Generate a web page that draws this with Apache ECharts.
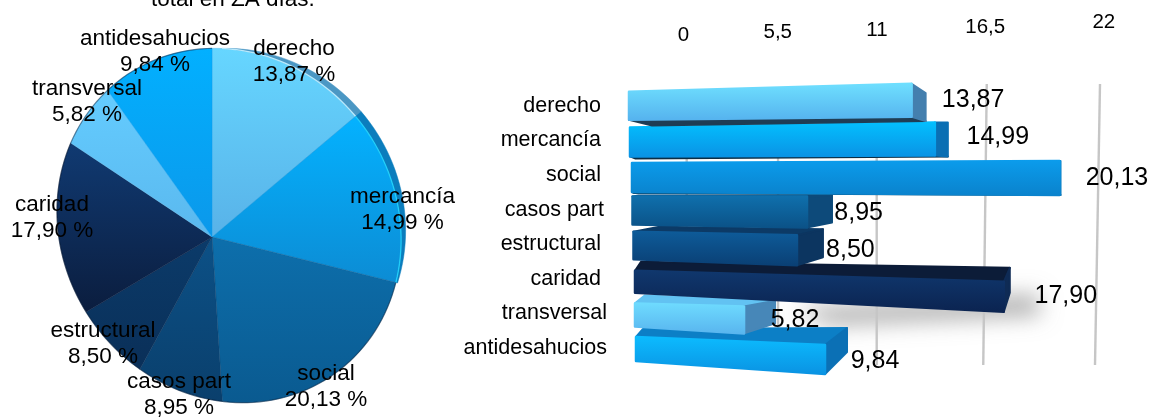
<!DOCTYPE html>
<html>
<head>
<meta charset="utf-8">
<style>html,body{margin:0;padding:0;background:#fff}#c{width:1151px;height:417px}</style>
<script src="https://cdn.jsdelivr.net/npm/echarts@6/dist/echarts.min.js"></script>
</head>
<body>
<div id="c"></div>
<script>
// Data
const categories = ['derecho','mercancía','social','casos part','estructural','caridad','transversal','antidesahucios'];
const shares = [13.87,14.99,20.13,8.95,8.50,17.90,5.82,9.84];
const tickValues = [0,5.5,11,16.5,22];
const tickLabels = ['0','5,5','11','16,5','22'];
const titleText = 'total en ZA días.';

// Slice colours (top and bottom of the gradient)
const sliceTop = ['#66d6ff','#04b2ff','#0d6fac','#0c5187','#0b3b6a','#103a72','#64ccff','#02b0ff'];
const sliceBottom = ['#58b2e8','#0c8cd4','#0a5a90','#0a3f6c','#0a2f58','#0b1d3e','#5ab8ee','#0b98ea'];
const rimColor = ['#4b97c4','#0b7dbd'];

// Tilted pie outline
const pieApex = [212, 237];
const pieCentre = [229, 225.5];
const pieAxes = [182, 167];
const pieTilt = 325;
// Slice label anchors: centre x, first line y
const sliceLabelAt = [[294,49],[402.5,197],[326,374],[179,382],[103,331],[52,205],[87,89],[155,38.5]];

// Bar perspective per row
const rowStart = [-3,-2,0,0.5,1.5,3,3,4];
const rowScale = [0.994,0.992,1.036,0.951,0.938,1.005,0.914,0.937];
// Front face corners relative to row centre: top-left, top-right, bottom-right, bottom-left
const rowFace = [[-14,-22,11,14],[-13,-18,15,16],[-12,-14,20,17],[-13,-13,18,15],[-12.5,-9,21,15],[-8,3,33,14],[-10,-7,20,13],[-11,-3,26,13]];
// End cap: depth x, shift of its top edge, shift of its bottom edge
const rowCap = [[14,9.3,4.3],[13,0,1],[1,0,0],[25,-1,-5],[26,-6,-8],[6,-14,-19],[31,-5.7,-10],[22,-17,-22]];
// Long side face: start offset x, y
const rowLid = [[23,5.7],[5,2],[2,1],[6,-1],[26,-5],[6,-9],[10,-8],[7,-8]];
const barTop = ['#6fe0ff','#03c0ff','#0b9cec','#0f70ad','#0e5c9a','#10386e','#6fdcff','#0cbcff'];
const barBottom = ['#55b2ee','#0a92e4','#0a82cc','#0b5186','#0a3f74','#0b2350','#58b4ee','#0a92e2'];
const capFill = ['#447fae','#0b6fb3','#0a7cc0','#0d4a7a','#0c3560','#0f2b55','#4787b8','#0b70b5'];
const lidFill = ['#1f3d55','#0b2d45','#0b4468','#0c4c7c','#0c3a66','#0c1c38','#62c2f2','#0c7fc6'];
// Value label offsets from the bar end and the row centre
const valueLabelAt = [[61.5,-6],[63,-3.5],[57.4,3],[51.7,3.4],[53.5,5.8],[62,17],[51,6.6],[50,13]];
// Category label gap from the axis
const categoryGap = [6,6,6,3,6,6,0,0];
// Scale marks: label shift x, label y, line shift at top and bottom, line top as a share of the height
const tickLabelShift = [-0.5,-11,-16.5,-13,0.8];
const tickLabelY = [35,32,30,27,22];
const tickLineTop = [2.7,-10.7,-16.8,-11.5,-3];
const tickLineBottom = [2.7,-10.7,-16.8,-15,-8];
const tickLineReach = [0.9,0.9,0.9,1,1];

const textFont = '"Liberation Sans", Arial, sans-serif';

function fmt(v){ return v.toFixed(2).replace('.', ','); }

function rayToRim(theta){
  const t = theta*Math.PI/180, d = [Math.sin(t), -Math.cos(t)];
  const f = pieTilt*Math.PI/180, u = [Math.sin(f), -Math.cos(f)], w = [Math.cos(f), Math.sin(f)];
  const p = [pieApex[0]-pieCentre[0], pieApex[1]-pieCentre[1]];
  const a = pieAxes[0], b = pieAxes[1];
  const du = (d[0]*u[0]+d[1]*u[1])/a, dw = (d[0]*w[0]+d[1]*w[1])/b;
  const pu = (p[0]*u[0]+p[1]*u[1])/a, pw = (p[0]*w[0]+p[1]*w[1])/b;
  const A = du*du+dw*dw, B = 2*(du*pu+dw*pw), C = pu*pu+pw*pw-1;
  const s = (-B+Math.sqrt(B*B-4*A*C))/(2*A);
  return {s, d};
}
function rimPoint(theta, extra){
  const r = rayToRim(theta);
  return [pieApex[0]+r.d[0]*(r.s+extra), pieApex[1]+r.d[1]*(r.s+extra)];
}

const total = shares.reduce((a,b)=>a+b,0);

function vertical(top, bottom){
  return new echarts.graphic.LinearGradient(0,0,0,1,[{offset:0,color:top},{offset:1,color:bottom}]);
}

function renderSlice(params, api){
  const i = params.dataIndex;
  let before = 0;
  for(let k=0;k<i;k++) before += shares[k];
  const start = before/total*360, end = (before+api.value(0))/total*360;
  const arc = [];
  for(let th=start; th<end; th+=2) arc.push(rimPoint(th,0));
  arc.push(rimPoint(end,0));
  const kids = [{
    type:'polygon', shape:{points:[pieApex.slice()].concat(arc)}, z2:10,
    style:{fill:vertical(sliceTop[i],sliceBottom[i]), stroke:sliceBottom[i], lineWidth:0.4}
  }];
  if(i<2){
    // Bevelled edge along the upper right of the disc
    const from = Math.max(start,3), to = Math.min(end,112);
    const angles = [];
    for(let th=from; th<to; th+=2) angles.push(th);
    angles.push(to);
    const outer = angles.map(th => rimPoint(th, 7.5*Math.sin(Math.PI*(th-3)/109)));
    const inner = angles.map(th => rimPoint(th, 0));
    kids.push({type:'polygon', shape:{points:outer.concat(inner.slice().reverse())}, z2:11, style:{fill:rimColor[i], stroke:rimColor[i], lineWidth:0.5}});
    kids.push({type:'polyline', shape:{points:inner}, z2:12, style:{fill:'none', stroke:i?'#22d6ff':'#c4efff', lineWidth:1.3, opacity:0.9}});
  } else {
    // Thin dark edge around the lower part of the disc
    kids.push({type:'polyline', shape:{points:arc}, z2:12, style:{fill:'none', stroke:'rgba(5,25,50,0.45)', lineWidth:1.2}});
  }
  const at = sliceLabelAt[i];
  kids.push({type:'text', z2:30, style:{text:categories[i], x:at[0], y:at[1], fill:'#000', fontSize:22.5, fontFamily:textFont, textAlign:'center', textVerticalAlign:'middle'}});
  kids.push({type:'text', z2:30, style:{text:fmt(api.value(0))+' %', x:at[0], y:at[1]+26, fill:'#000', fontSize:22.5, fontFamily:textFont, textAlign:'center', textVerticalAlign:'middle'}});
  return {type:'group', children:kids};
}

function renderBar(params, api){
  const i = api.value(1), v = api.value(0);
  const origin = api.coord([0,i]);
  const tip = api.coord([v,i]);
  const c = origin[1];
  const x0 = origin[0]+rowStart[i];
  const x1 = x0+(tip[0]-origin[0])*rowScale[i];
  const f = rowFace[i], cap = rowCap[i], lid = rowLid[i];
  const TL=[x0,c+f[0]], TR=[x1,c+f[1]], BR=[x1,c+f[2]], BL=[x0,c+f[3]];
  const oT=[x1+cap[0],TR[1]+cap[1]], oB=[x1+cap[0],BR[1]+cap[2]];
  const order = 100-i*5;
  const upper = cap[2]<0;
  const lidPts = upper
    ? [TL,[x0+lid[0],TL[1]+lid[1]],oT,TR]
    : [BL,[x0+lid[0],BL[1]+lid[1]],oB,BR];
  const round = {lineJoin:'round', lineWidth:2};
  return {type:'group', children:[
    {type:'polygon', z2:order, shape:{points:lidPts}, style:Object.assign({fill:lidFill[i], stroke:lidFill[i]},round)},
    {type:'polygon', z2:order+1, shape:{points:[TR,oT,oB,BR]}, style:Object.assign({fill:capFill[i], stroke:capFill[i]},round)},
    {type:'polygon', z2:order+2, shape:{points:[TL,TR,BR,BL]}, style:{
      fill:vertical(barTop[i],barBottom[i]), stroke:vertical(barTop[i],barBottom[i]), lineWidth:2.5, lineJoin:'round'}},
    {type:'text', z2:200, style:{text:fmt(v), x:x1+valueLabelAt[i][0], y:c+valueLabelAt[i][1], fill:'#000', fontSize:25, fontFamily:textFont, textAlign:'center', textVerticalAlign:'middle'}}
  ]};
}

// Soft cast shadow beneath the caridad bar: only the blurred shadow lands on the page
const castOffset = 3000;
function renderCast(params, api){
  const i = api.value(1), v = api.value(0);
  const origin = api.coord([0,i]), tip = api.coord([v,i]);
  const x1 = origin[0]+(tip[0]-origin[0])*rowScale[i];
  const c = origin[1];
  const pts = [[x1-205,c+30],[x1,c+18],[x1+36,c+16],[x1+40,c+36],[x1-170,c+46]]
    .map(p => [p[0]-castOffset, p[1]]);
  return {type:'polygon', shape:{points:pts},
    style:{fill:'#000', shadowBlur:22, shadowColor:'rgba(150,150,150,0.8)', shadowOffsetX:castOffset, shadowOffsetY:0}};
}

function renderTick(params, api){
  const i = params.dataIndex, v = api.value(0);
  const top = api.coord([v,tickLineReach[i]]), bot = api.coord([v,0]);
  return {type:'group', children:[
    {type:'line', shape:{x1:top[0]+tickLineTop[i], y1:top[1], x2:bot[0]+tickLineBottom[i], y2:bot[1]},
      style:{stroke:'#c6c6c6', lineWidth:2.4}},
    {type:'text', style:{text:tickLabels[i], x:top[0]+tickLabelShift[i], y:tickLabelY[i], fill:'#000', fontSize:20.5, fontFamily:textFont, textAlign:'center', textVerticalAlign:'middle'}}
  ]};
}

const categoryRich = {};
categoryGap.forEach(g => { categoryRich['g'+g] = {fontSize:21.5, fontFamily:textFont, color:'#000', padding:[0,g,0,0]}; });

const chart = echarts.init(document.getElementById('c'), null, {renderer:'canvas'});
chart.setOption({
  animation:false,
  backgroundColor:'#fff',
  title:{text:titleText, left:146, top:-17, textStyle:{fontSize:22.5, fontWeight:'normal', color:'#000', fontFamily:textFont}},
  grid:[
    {left:632, width:451, top:88.5, height:276.8},
    {left:684, width:419, top:84, height:281}
  ],
  xAxis:[
    {type:'value', gridIndex:0, min:0, max:22, show:false},
    {type:'value', gridIndex:1, min:0, max:22, show:false}
  ],
  yAxis:[
    {type:'category', gridIndex:0, data:categories, inverse:true,
      axisLine:{show:false}, axisTick:{show:false},
      axisLabel:{margin:25, formatter:(val,idx)=>'{g'+categoryGap[idx]+'|'+val+'}', rich:categoryRich}},
    {type:'value', gridIndex:1, min:0, max:1, show:false}
  ],
  series:[
    {type:'custom', name:'reparto', coordinateSystem:'none', renderItem:renderSlice, data:shares.map(v=>[v]), silent:true, z:5},
    {type:'custom', name:'sombra', xAxisIndex:0, yAxisIndex:0, renderItem:renderCast, silent:true, z:1,
      data:shares.map((v,i)=>[v,i]).filter(r=>categories[r[1]]==='caridad'), clip:false},
    {type:'custom', name:'escala', xAxisIndex:1, yAxisIndex:1, renderItem:renderTick, silent:true, z:2,
      data:tickValues.map(v=>[v]), clip:false},
    {type:'custom', name:'barras', xAxisIndex:0, yAxisIndex:0, renderItem:renderBar, silent:true, z:5,
      data:shares.map((v,i)=>[v,i]), encode:{x:0,y:1}, clip:false}
  ]
});
</script>
</body>
</html>
